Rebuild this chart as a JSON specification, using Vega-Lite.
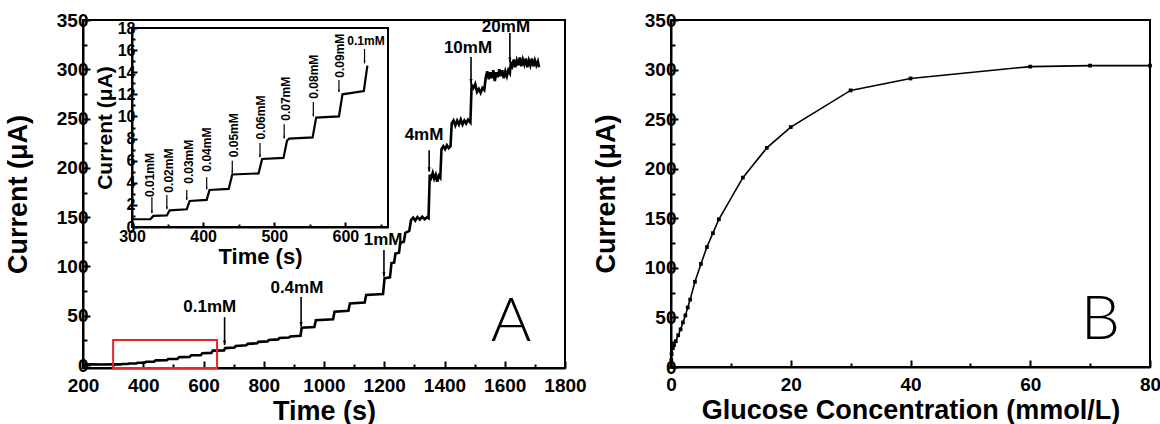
{
  "$schema": "https://vega.github.io/schema/vega-lite/v6.json",
  "background": "white",
  "padding": {"left": 3, "top": 10, "right": 5, "bottom": 5},
  "bounds": "flush",
  "spacing": 106,
  "config": {
    "view": {"stroke": "black", "strokeWidth": 2},
    "axis": {"domainColor": "black", "domainWidth": 2, "tickColor": "black", "tickWidth": 2, "labelFont": "Liberation Sans", "labelFontWeight": "bold", "labelColor": "black", "titleFont": "Liberation Sans", "titleFontWeight": "bold", "titleColor": "black", "grid": false, "labelFlush": false, "labelOverlap": false, "format": "d", "tickCount": 100},
    "text": {"font": "Liberation Sans"}
  },
  "datasets": {
    "curve": [
      {"t":200,"i":0.6},{"t":230,"i":0.65},{"t":260,"i":0.6},{"t":300,"i":0.7},{"t":326,"i":0.72},{"t":330,"i":1.0},{"t":349,"i":1.05},{"t":353,"i":1.5},{"t":377,"i":1.6},{"t":381,"i":2.35},{"t":405,"i":2.45},{"t":409,"i":3.35},{"t":436,"i":3.45},{"t":441,"i":4.75},{"t":478,"i":4.85},{"t":483,"i":6.15},{"t":513,"i":6.25},{"t":518,"i":7.8},{"t":521,"i":8.0},{"t":554,"i":8.1},{"t":559,"i":9.9},{"t":591,"i":10.0},{"t":596,"i":12.0},{"t":626,"i":12.3},{"t":631,"i":14.6},{"t":668,"i":14.8},{"t":672,"i":17.2},{"t":703,"i":17.8},{"t":707,"i":19.4},{"t":742,"i":20},{"t":746,"i":21.5},{"t":778,"i":22},{"t":782,"i":23.5},{"t":813,"i":24},{"t":817,"i":25.5},{"t":848,"i":26},{"t":852,"i":27.5},{"t":884,"i":28},{"t":888,"i":29},{"t":922,"i":29.6},{"t":926,"i":37.8},{"t":968,"i":38.5},{"t":973,"i":45.5},{"t":1030,"i":46.5},{"t":1035,"i":54},{"t":1081,"i":55},{"t":1086,"i":62.5},{"t":1135,"i":63.5},{"t":1140,"i":71},{"t":1196,"i":72},{"t":1201,"i":88},{"t":1219,"i":89},{"t":1224,"i":103.5},{"t":1233,"i":104},{"t":1237,"i":113},{"t":1249,"i":114},{"t":1253,"i":124},{"t":1265,"i":125},{"t":1270,"i":134},{"t":1283,"i":136},{"t":1289,"i":147},{"t":1296,"i":149.5},{"t":1303,"i":146.5},{"t":1310,"i":150},{"t":1318,"i":147.5},{"t":1326,"i":150.5},{"t":1334,"i":148},{"t":1342,"i":150},{"t":1347,"i":149},{"t":1351,"i":193},{"t":1356,"i":190},{"t":1361,"i":195},{"t":1366,"i":189},{"t":1371,"i":193},{"t":1376,"i":186},{"t":1381,"i":192},{"t":1386,"i":190},{"t":1390,"i":219},{"t":1396,"i":222},{"t":1402,"i":219},{"t":1408,"i":223},{"t":1414,"i":220},{"t":1420,"i":222},{"t":1424,"i":245},{"t":1430,"i":248},{"t":1436,"i":243},{"t":1442,"i":248},{"t":1448,"i":244},{"t":1454,"i":249},{"t":1460,"i":244},{"t":1466,"i":248},{"t":1472,"i":245},{"t":1478,"i":249},{"t":1486,"i":246},{"t":1490,"i":284},{"t":1496,"i":281},{"t":1502,"i":285},{"t":1508,"i":277},{"t":1514,"i":280},{"t":1520,"i":276},{"t":1526,"i":281},{"t":1532,"i":279},{"t":1537,"i":292},{"t":1542,"i":298},{"t":1547,"i":290},{"t":1552,"i":297},{"t":1557,"i":291},{"t":1562,"i":299},{"t":1567,"i":288},{"t":1572,"i":297},{"t":1577,"i":292},{"t":1582,"i":300},{"t":1587,"i":293},{"t":1592,"i":299},{"t":1597,"i":291},{"t":1602,"i":298},{"t":1607,"i":293},{"t":1612,"i":299},{"t":1617,"i":296},{"t":1620,"i":306},{"t":1625,"i":303},{"t":1630,"i":310},{"t":1635,"i":302},{"t":1640,"i":309},{"t":1645,"i":304},{"t":1650,"i":312},{"t":1655,"i":303},{"t":1660,"i":310},{"t":1665,"i":305},{"t":1670,"i":311},{"t":1675,"i":302},{"t":1680,"i":309},{"t":1685,"i":304},{"t":1690,"i":311},{"t":1695,"i":303},{"t":1700,"i":309},{"t":1705,"i":304},{"t":1710,"i":308},{"t":1714,"i":302}
    ],
    "mainArrows": [
      {"lab":"0.1mM","t":670,"top":48.7,"tip":20.3,"lt":621,"li":58.9},
      {"lab":"0.4mM","t":924,"top":69,"tip":39,"lt":910,"li":78},
      {"lab":"1mM","t":1199,"top":116.7,"tip":89.5,"lt":1196,"li":126.8},
      {"lab":"4mM","t":1349,"top":218,"tip":196,"lt":1332,"li":233.4},
      {"lab":"10mM","t":1488,"top":312.5,"tip":285.5,"lt":1478,"li":321.6},
      {"lab":"20mM","t":1617,"top":336.8,"tip":307.5,"lt":1604,"li":342.9}
    ],
    "insetArrows": [
      {"lab":"0.01mM","t":328,"top":2.7,"tip":1.25,"lt":325,"li":4.7},
      {"lab":"0.02mM","t":349,"top":2.9,"tip":1.6,"lt":352,"li":5.1},
      {"lab":"0.03mM","t":377,"top":3.35,"tip":2.45,"lt":380,"li":5.9},
      {"lab":"0.04mM","t":405,"top":4.5,"tip":3.4,"lt":405,"li":7.0},
      {"lab":"0.05mM","t":441,"top":6.0,"tip":4.85,"lt":443,"li":8.3},
      {"lab":"0.06mM","t":480,"top":7.6,"tip":6.3,"lt":481,"li":9.9},
      {"lab":"0.07mM","t":514,"top":9.3,"tip":8.0,"lt":516,"li":11.6},
      {"lab":"0.08mM","t":555,"top":11.3,"tip":10.0,"lt":556,"li":13.6},
      {"lab":"0.09mM","t":591,"top":13.3,"tip":12.2,"lt":592,"li":15.5},
      {"lab":"0.1mM","t":627,"top":16.1,"tip":14.8,"lt":629,"li":16.8}
    ],
    "calib": [
      {"c":0,"i":0},{"c":0.05,"i":7},{"c":0.1,"i":13},{"c":0.3,"i":19},{"c":0.5,"i":22},{"c":0.8,"i":26},{"c":1.2,"i":32},{"c":1.6,"i":38},{"c":2.0,"i":45},{"c":2.4,"i":52},{"c":2.8,"i":60},{"c":3.2,"i":68},{"c":4,"i":86},{"c":5,"i":104},{"c":6,"i":121},{"c":7,"i":135},{"c":8,"i":149},{"c":12,"i":191},{"c":16,"i":221},{"c":20,"i":242},{"c":30,"i":279},{"c":40,"i":291},{"c":60,"i":303},{"c":70,"i":304},{"c":80,"i":304}
    ]
  },
  "hconcat": [
    {
      "width": 482,
      "height": 348,
      "layer": [
        {
          "layer": [
            {
              "data": {"name": "curve"},
              "mark": {"type": "line", "color": "black", "strokeWidth": 2.6},
              "encoding": {
                "x": {"field": "t", "type": "quantitative", "title": "Time (s)", "scale": {"domain": [200, 1800], "nice": false, "zero": false},
                  "axis": {"orient": "bottom", "tickCount": 100, "values": [200,300,400,500,600,700,800,900,1000,1100,1200,1300,1400,1500,1600,1700,1800], "labelExpr": "datum.value % 200 == 0 ? datum.label : ''", "tickSize": {"condition": {"test": "datum.value % 200 != 0", "value": -4}, "value": -7}, "labelPadding": 15, "labelFontSize": 19, "titleFontSize": 27, "titlePadding": 0, "labelOverlap": false}},
                "y": {"field": "i", "type": "quantitative", "title": "Current (μA)", "scale": {"domain": [-3, 350], "nice": false, "zero": false},
                  "axis": {"orient": "left", "tickCount": 100, "values": [0,25,50,75,100,125,150,175,200,225,250,275,300,325,350], "labelExpr": "datum.value % 50 == 0 ? datum.label : ''", "tickSize": {"condition": {"test": "datum.value % 50 != 0", "value": -4}, "value": -7}, "labelPadding": 2, "labelFontSize": 19, "titleFontSize": 27, "titlePadding": 24, "labelOverlap": false}}
              }
            },
            {
              "data": {"values": [{"t": 300, "t2": 645, "i": 25.5, "i2": -3}]},
              "mark": {"type": "rect", "fillOpacity": 0, "stroke": "#e8262a", "strokeWidth": 2},
              "encoding": {
                "x": {"field": "t", "type": "quantitative", "title": "Time (s)"},
                "x2": {"field": "t2"},
                "y": {"field": "i", "type": "quantitative", "title": "Current (μA)"},
                "y2": {"field": "i2"}
              }
            },
            {
              "data": {"name": "mainArrows"},
              "mark": {"type": "rule", "color": "black", "strokeWidth": 1.6},
              "encoding": {
                "x": {"field": "t", "type": "quantitative", "title": "Time (s)"},
                "y": {"field": "top", "type": "quantitative", "title": "Current (μA)"},
                "y2": {"field": "tip"}
              }
            },
            {
              "data": {"name": "mainArrows"},
              "mark": {"type": "point", "shape": "M-0.35,-1L0.35,-1L0,0Z", "size": 81, "filled": true, "color": "black", "opacity": 1},
              "encoding": {
                "x": {"field": "t", "type": "quantitative", "title": "Time (s)"},
                "y": {"field": "tip", "type": "quantitative", "title": "Current (μA)"}
              }
            },
            {
              "data": {"name": "mainArrows"},
              "mark": {"type": "text", "fontSize": 17, "fontWeight": "bold", "color": "black", "align": "center", "baseline": "middle"},
              "encoding": {
                "x": {"field": "lt", "type": "quantitative", "title": "Time (s)"},
                "y": {"field": "li", "type": "quantitative", "title": "Current (μA)"},
                "text": {"field": "lab"}
              }
            },
            {
              "data": {"values": [{"lab": "A", "t": 1621, "i": 43.7}]},
              "mark": {"type": "text", "font": "Lato", "fontWeight": 300, "fontSize": 62, "color": "black", "align": "center", "baseline": "middle"},
              "encoding": {
                "x": {"field": "t", "type": "quantitative", "title": "Time (s)"},
                "y": {"field": "i", "type": "quantitative", "title": "Current (μA)"},
                "text": {"field": "lab"}
              }
            }
          ]
        },
        {
          "layer": [
            {
              "data": {"name": "curve"},
              "transform": [{"filter": "datum.t >= 300 && datum.t <= 660"}],
              "mark": {"type": "line", "color": "black", "strokeWidth": 2.2},
              "encoding": {
                "x": {"field": "t", "type": "quantitative", "title": "Time (s)", "scale": {"domain": [300, 660], "range": [49, 305], "nice": false, "zero": false},
                  "axis": {"orient": "bottom", "offset": -141, "tickCount": 100, "values": [300,350,400,450,500,550,600,650], "labelExpr": "datum.value % 100 == 0 ? datum.label : ''", "tickSize": {"condition": {"test": "datum.value % 100 != 0", "value": -3}, "value": -5}, "labelPadding": 6, "labelFontSize": 16, "titleFontSize": 22, "titlePadding": 0, "labelOverlap": false}},
                "y": {"field": "i", "type": "quantitative", "title": "Current (μA)", "scale": {"domain": [0, 18], "range": [207, 8], "nice": false, "zero": false},
                  "axis": {"orient": "left", "offset": -49, "tickCount": 100, "values": [0,1,2,3,4,5,6,7,8,9,10,11,12,13,14,15,16,17,18], "labelExpr": "datum.value % 2 == 0 ? datum.label : ''", "tickSize": {"condition": {"test": "datum.value % 2 != 0", "value": -3}, "value": -5}, "labelPadding": 2, "labelFontSize": 16, "titleFontSize": 21, "titlePadding": 2, "labelOverlap": false}}
              }
            },
            {
              "data": {"values": [{"t": 300, "t2": 660, "i": 0, "i2": 18}]},
              "mark": {"type": "rect", "fillOpacity": 0, "stroke": "black", "strokeWidth": 2},
              "encoding": {
                "x": {"field": "t", "type": "quantitative", "title": "Time (s)"},
                "x2": {"field": "t2"},
                "y": {"field": "i", "type": "quantitative", "title": "Current (μA)"},
                "y2": {"field": "i2"}
              }
            },
            {
              "data": {"name": "insetArrows"},
              "mark": {"type": "rule", "color": "black", "strokeWidth": 1.2},
              "encoding": {
                "x": {"field": "t", "type": "quantitative", "title": "Time (s)"},
                "y": {"field": "top", "type": "quantitative", "title": "Current (μA)"},
                "y2": {"field": "tip"}
              }
            },
            {
              "data": {"name": "insetArrows"},
              "mark": {"type": "point", "shape": "M-0.35,-1L0.35,-1L0,0Z", "size": 30, "filled": true, "color": "black", "opacity": 1},
              "encoding": {
                "x": {"field": "t", "type": "quantitative", "title": "Time (s)"},
                "y": {"field": "tip", "type": "quantitative", "title": "Current (μA)"}
              }
            },
            {
              "data": {"name": "insetArrows"},
              "transform": [{"filter": "datum.lab != '0.1mM'"}],
              "mark": {"type": "text", "fontSize": 12, "fontWeight": "bold", "color": "black", "align": "center", "baseline": "middle", "angle": 270},
              "encoding": {
                "x": {"field": "lt", "type": "quantitative", "title": "Time (s)"},
                "y": {"field": "li", "type": "quantitative", "title": "Current (μA)"},
                "text": {"field": "lab"}
              }
            },
            {
              "data": {"name": "insetArrows"},
              "transform": [{"filter": "datum.lab == '0.1mM'"}],
              "mark": {"type": "text", "fontSize": 12, "fontWeight": "bold", "color": "black", "align": "center", "baseline": "middle"},
              "encoding": {
                "x": {"field": "lt", "type": "quantitative", "title": "Time (s)"},
                "y": {"field": "li", "type": "quantitative", "title": "Current (μA)"},
                "text": {"field": "lab"}
              }
            }
          ]
        }
      ],
      "resolve": {"scale": {"x": "independent", "y": "independent"}}
    },
    {
      "width": 479,
      "height": 347,
      "layer": [
        {
          "data": {"name": "calib"},
          "mark": {"type": "line", "color": "black", "strokeWidth": 1.6, "point": {"shape": "square", "size": 14, "filled": true, "color": "black"}},
          "encoding": {
            "x": {"field": "c", "type": "quantitative", "title": "Glucose Concentration (mmol/L)", "scale": {"domain": [0, 80], "nice": false},
              "axis": {"orient": "bottom", "tickCount": 100, "values": [0,10,20,30,40,50,60,70,80], "labelExpr": "datum.value % 20 == 0 ? datum.label : ''", "tickSize": {"condition": {"test": "datum.value % 20 != 0", "value": -4}, "value": -7}, "labelPadding": 15, "labelFontSize": 19, "titleFontSize": 27, "titlePadding": 0, "labelOverlap": false}},
            "y": {"field": "i", "type": "quantitative", "title": "Current (μA)", "scale": {"domain": [0, 350], "nice": false},
              "axis": {"orient": "left", "tickCount": 100, "values": [0,25,50,75,100,125,150,175,200,225,250,275,300,325,350], "labelExpr": "datum.value % 50 == 0 ? datum.label : ''", "tickSize": {"condition": {"test": "datum.value % 50 != 0", "value": -4}, "value": -7}, "labelPadding": 2, "labelFontSize": 19, "titleFontSize": 27, "titlePadding": 24, "labelOverlap": false}}
          }
        },
        {
          "data": {"values": [{"lab": "B", "c": 71.7, "i": 47.4}]},
          "mark": {"type": "text", "font": "Lato", "fontWeight": 300, "fontSize": 62, "color": "black", "align": "center", "baseline": "middle"},
          "encoding": {
            "x": {"field": "c", "type": "quantitative", "title": "Glucose Concentration (mmol/L)"},
            "y": {"field": "i", "type": "quantitative", "title": "Current (μA)"},
            "text": {"field": "lab"}
          }
        }
      ]
    }
  ]
}
